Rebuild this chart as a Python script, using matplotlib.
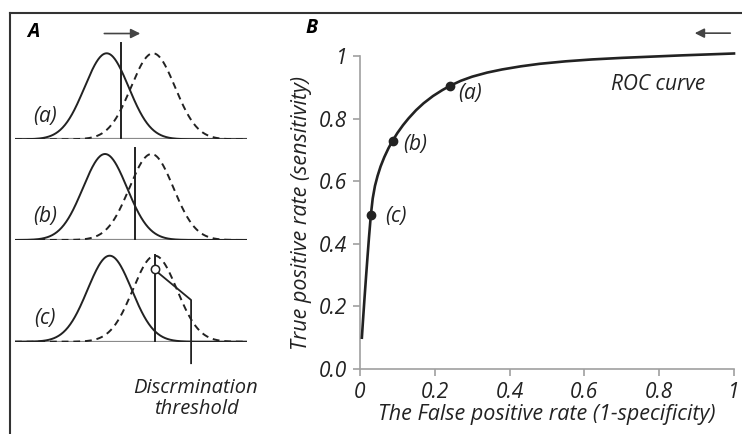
import numpy as np
import matplotlib
matplotlib.use("Agg")
import matplotlib.pyplot as plt
from matplotlib.lines import Line2D

plt.rcParams["font.family"] = ["Open Sans", "DejaVu Sans"]
plt.rcParams["font.style"] = "italic"
plt.rcParams["font.weight"] = "medium"
plt.rcParams["axes.labelweight"] = "medium"

# Panel B: ROC curve
fpr = [0.005, 0.008, 0.012, 0.016, 0.020, 0.024, 0.029, 0.034, 0.040, 0.047,
       0.055, 0.065, 0.076, 0.087, 0.100, 0.115, 0.130, 0.150, 0.170, 0.195,
       0.220, 0.241, 0.27, 0.30, 0.34, 0.38, 0.43, 0.48, 0.55, 0.62,
       0.70, 0.78, 0.86, 0.93, 1.0]
tpr = [0.100, 0.155, 0.225, 0.292, 0.357, 0.420, 0.492, 0.545, 0.585, 0.617,
       0.647, 0.677, 0.705, 0.729, 0.754, 0.779, 0.801, 0.827, 0.849, 0.872,
       0.891, 0.905, 0.921, 0.934, 0.947, 0.957, 0.967, 0.975, 0.983, 0.989,
       0.994, 0.998, 1.002, 1.005, 1.008]
pt_labels = ["(a)", "(b)", "(c)"]
pt_fpr = [0.241, 0.087, 0.029]
pt_tpr = [0.905, 0.729, 0.492]
xticks = [0, 0.2, 0.4, 0.6, 0.8, 1.0]
xtick_labels = ["0", "0.2", "0.4", "0.6", "0.8", "1"]
yticks = [0, 0.2, 0.4, 0.6, 0.8, 1.0]
ytick_labels = ["0.0", "0.2", "0.4", "0.6", "0.8", "1"]

# Panel A: noise (solid) and signal (dashed) distributions, thresholds
row_labels = ["(a)", "(b)", "(c)"]
noise_mean = [3.95, 3.88, 4.08]
signal_mean = [5.95, 5.88, 6.03]
dist_sd = 0.95
thresholds = [4.57, 5.17, 6.03]
thresh_top = [1.12, 1.07, 1.01]

ink = "#222222"
grey = "#8a8a8a"

fig = plt.figure(figsize=(7.42, 4.34), dpi=100)
W, H = 742, 434

# frame lines
fig.add_artist(Line2D([10 / W, 1], [1 - 13 / H, 1 - 13 / H], color="#333333", lw=1.5))
fig.add_artist(Line2D([10 / W, 10 / W], [0, 1 - 13 / H], color="#333333", lw=1.5))

fig.text(33 / W, 1 - 32 / H, "A", fontsize=14, fontweight="bold", ha="center", va="center")
fig.text(312 / W, 1 - 28 / H, "B", fontsize=14, fontweight="bold", ha="center", va="center")

# ---- Panel A ----
baselines = [139.3, 240.0, 341.7]
xs = np.linspace(0, 10, 400)
axes_a = []
for i, base in enumerate(baselines):
    ax = fig.add_axes([15 / W, 1 - base / H, 232 / W, 100 / H])
    ax.set_xlim(0, 10)
    ax.set_ylim(0, 100 / 86)
    ax.axis("off")
    ax.axhline(0, color=grey, lw=1.6)
    noise = np.exp(-0.5 * ((xs - noise_mean[i]) / dist_sd) ** 2)
    signal = np.exp(-0.5 * ((xs - signal_mean[i]) / dist_sd) ** 2)
    ax.plot(xs, noise, color=ink, lw=1.4)
    ax.plot(xs, signal, color=ink, lw=1.4, ls=(0, (3.5, 2.5)))
    ax.plot([thresholds[i], thresholds[i]], [0, thresh_top[i]], color=ink, lw=1.4)
    ax.text(1.3, 0.27, row_labels[i], fontsize=15, ha="center", va="center", color=ink)
    axes_a.append(ax)

# arrow above panel A
axes_a[0].annotate("", xy=(5.4, 1.23), xytext=(3.85, 1.23),
                   arrowprops=dict(arrowstyle="-|>", color="#444444", lw=1.2,
                                   mutation_scale=14, shrinkA=0, shrinkB=0),
                   annotation_clip=False)

# discrimination threshold marker and leader
axc = axes_a[2]
axc.plot([thresholds[2]], [0.85], "o", ms=6, mfc="white", mec=ink, mew=1.1, zorder=5)
axc.plot([thresholds[2] + 0.15, 7.59, 7.59], [0.80, 0.485, -0.25], color=ink, lw=1.3,
         clip_on=False)
axc.text(7.8, -0.66, "Discrmination\nthreshold", fontsize=14.5, ha="center", va="center",
         color=ink, linespacing=1.05, clip_on=False)

# ---- Panel B ----
axb = fig.add_axes([360 / W, 1 - 369 / H, 374 / W, 313 / H])
axb.plot(fpr, tpr, color=ink, lw=1.9, clip_on=False, zorder=3)
axb.plot(pt_fpr, pt_tpr, "o", color=ink, ms=6, clip_on=False, zorder=4)
offsets = [(0.021, -0.026), (0.028, -0.013), (0.038, -0.006)]
for lab, x, y, (dx, dy) in zip(pt_labels, pt_fpr, pt_tpr, offsets):
    axb.text(x + dx, y + dy, lab, fontsize=15, ha="left", va="center", color=ink)
axb.text(0.922, 0.91, "ROC curve", fontsize=15, ha="right", va="center", color=ink)
axb.annotate("", xy=(0.895, 1.073), xytext=(0.99, 1.073),
             arrowprops=dict(arrowstyle="-|>", color="#444444", lw=1.2,
                             mutation_scale=14, shrinkA=0, shrinkB=0),
             annotation_clip=False)

axb.set_xlim(0, 1)
axb.set_ylim(0, 1)
for side in ["top", "right"]:
    axb.spines[side].set_visible(False)
for side in ["left", "bottom"]:
    axb.spines[side].set_color("#a0a0a0")
    axb.spines[side].set_linewidth(1.2)
axb.set_xticks(xticks)
axb.set_xticklabels(xtick_labels)
axb.set_yticks(yticks)
axb.set_yticklabels(ytick_labels)
axb.tick_params(direction="out", length=5, width=1.2, color="#a0a0a0",
                labelsize=15, labelcolor=ink, pad=4)
axb.set_xlabel("The False positive rate (1-specificity)", fontsize=15.5, color=ink, labelpad=1)
axb.set_ylabel("True positive rate (sensitivity)", fontsize=15.5, color=ink, labelpad=5)

fig.savefig("out.png", dpi=100)
